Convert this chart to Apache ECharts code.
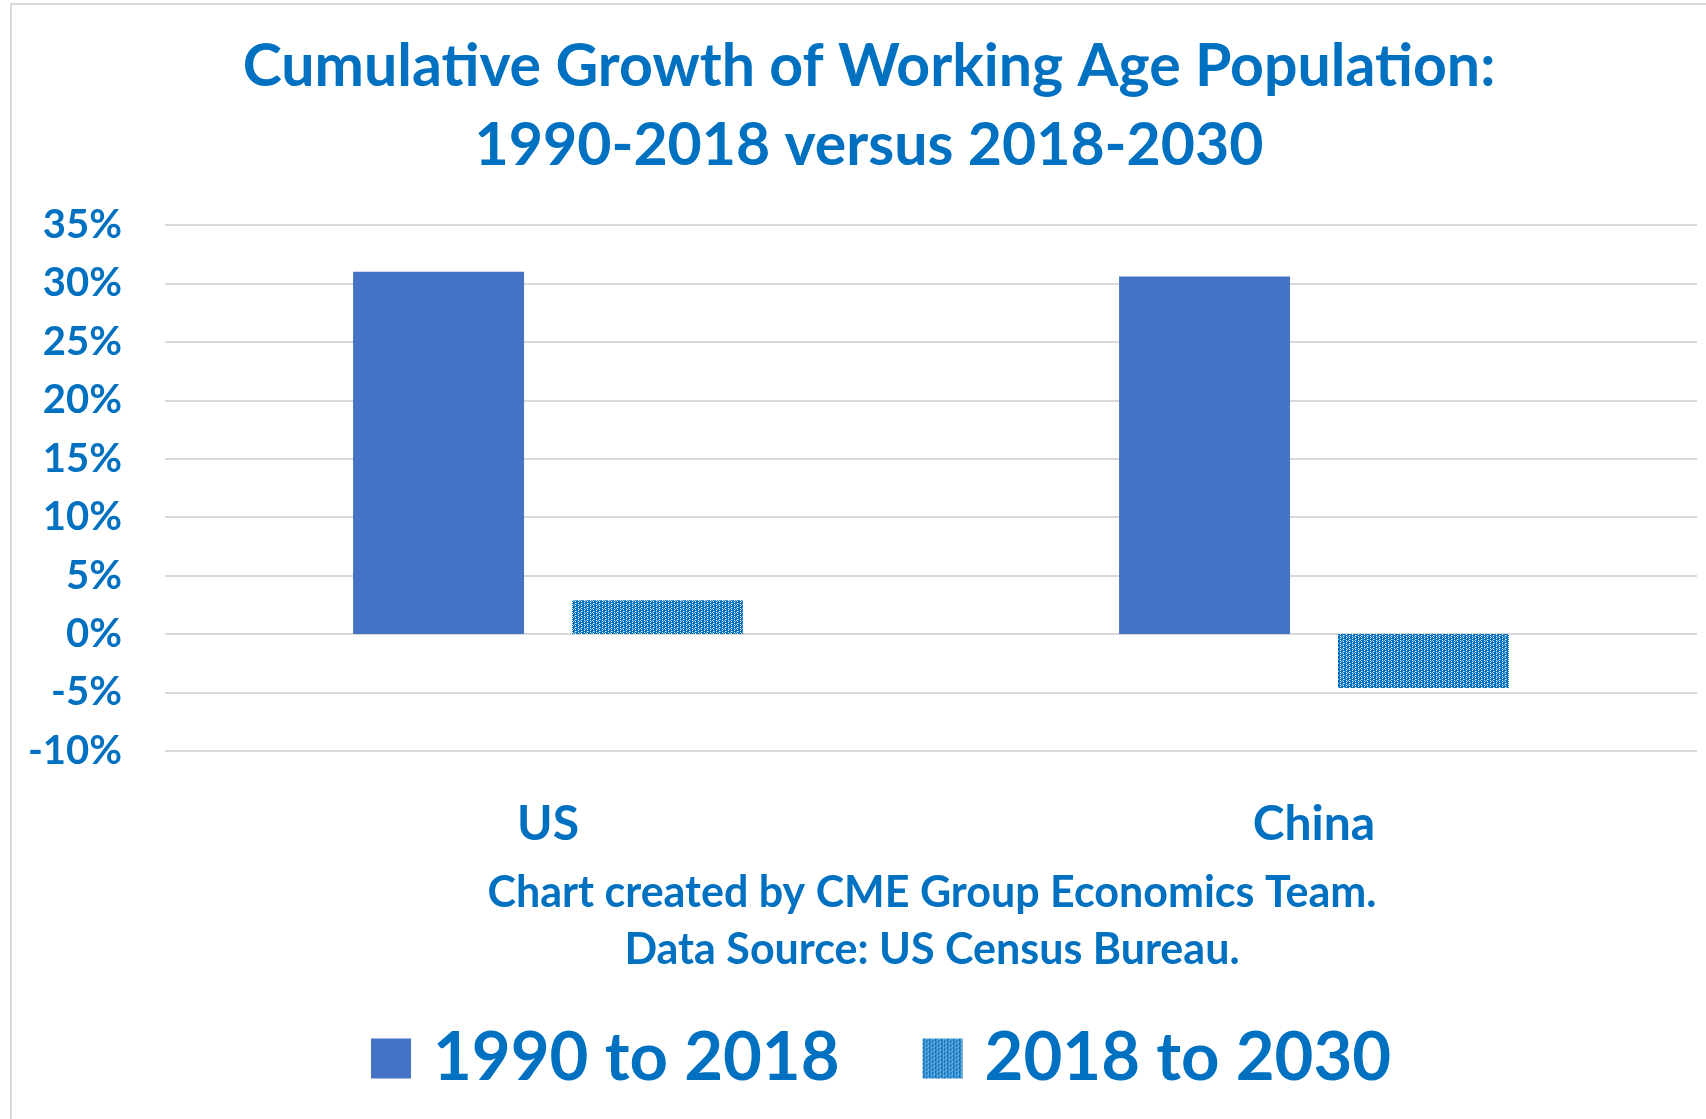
<!DOCTYPE html>
<html>
<head>
<meta charset="utf-8">
<title>Cumulative Growth of Working Age Population</title>
<script src="https://cdn.jsdelivr.net/npm/echarts@6/dist/echarts.min.js"></script>
<style>
  html, body { margin: 0; padding: 0; background: #ffffff; }
  #chart { width: 1706px; height: 1119px; }
</style>
</head>
<body>
<div id="chart"></div>
<script>
// Countries compared
const categories = ['US', 'China'];
// Cumulative growth of the working-age population, percent
const growth1990to2018 = [31.0, 30.6];
const growth2018to2030 = [2.9, -4.6];
// Series names as shown in the legend
const seriesNames = ['1990 to 2018', '2018 to 2030'];
// Value axis range and step (percent)
const yMin = -10, yMax = 35, yStep = 5;

const BLUE_TEXT = '#0070C0';
const FONT = 'Lato, "Open Sans", sans-serif';

// Dotted-grid fill used for the projected series
function makeDotPattern() {
  const c = document.createElement('canvas');
  c.width = 6; c.height = 4;
  const g = c.getContext('2d');
  g.fillStyle = '#0070C0';
  g.fillRect(0, 0, 6, 4);
  g.fillStyle = '#ffffff';
  g.fillRect(2, 0, 1, 1);
  g.fillRect(2, 2, 1, 1);
  g.fillRect(5, 1, 1, 1);
  g.fillRect(5, 3, 1, 1);
  g.fillStyle = 'rgba(255,255,255,0.55)';
  g.fillRect(3, 1, 1, 1);
  g.fillRect(0, 3, 1, 1);
  g.fillRect(4, 0, 1, 1);
  return c;
}

const chart = echarts.init(document.getElementById('chart'), null, { renderer: 'canvas' });

chart.setOption({
  backgroundColor: '#ffffff',
  animation: false,
  title: {
    text: 'Cumulative Growth of Working Age Population:\n1990-2018 versus 2018-2030',
    left: 869,
    top: 27,
    textAlign: 'center',
    padding: 0,
    textStyle: {
      color: BLUE_TEXT,
      fontFamily: FONT,
      fontWeight: 'bold',
      fontSize: 59,
      lineHeight: 79
    }
  },
  legend: {
    data: seriesNames,
    left: 366,
    top: 1020,
    icon: 'rect',
    itemWidth: 40,
    itemHeight: 40,
    itemGap: 83,
    selectedMode: false,
    textStyle: {
      color: BLUE_TEXT,
      fontFamily: FONT,
      fontWeight: 'bold',
      fontSize: 67,
      padding: [0, 0, 0, 17]
    }
  },
  grid: {
    left: 165,
    right: 9,
    top: 225,
    height: 526,
    containLabel: false
  },
  xAxis: {
    type: 'category',
    data: categories,
    axisLine: { show: false },
    axisTick: { show: false },
    axisLabel: {
      color: BLUE_TEXT,
      fontFamily: FONT,
      fontWeight: 'bold',
      fontSize: 48,
      margin: 50
    }
  },
  yAxis: {
    type: 'value',
    min: yMin,
    max: yMax,
    interval: yStep,
    axisLine: { show: false },
    axisTick: { show: false },
    splitLine: { lineStyle: { color: '#D9D9D9', width: 2 } },
    axisLabel: {
      formatter: '{value}%',
      color: BLUE_TEXT,
      fontFamily: FONT,
      fontWeight: 'bold',
      fontSize: 40,
      margin: 43
    }
  },
  graphic: [
    {
      type: 'rect',
      shape: { x: 11, y: 4, width: 1720, height: 1140 },
      style: { fill: 'none', stroke: '#D9D9D9', lineWidth: 2 },
      silent: true
    },
    {
      type: 'text',
      style: {
        x: 932, y: 893,
        text: 'Chart created by CME Group Economics Team.',
        fill: BLUE_TEXT,
        font: 'bold 43px ' + FONT,
        textAlign: 'center',
        textVerticalAlign: 'middle'
      }
    },
    {
      type: 'text',
      style: {
        x: 932, y: 950,
        text: 'Data Source: US Census Bureau.',
        fill: BLUE_TEXT,
        font: 'bold 43px ' + FONT,
        textAlign: 'center',
        textVerticalAlign: 'middle'
      }
    }
  ],
  series: [
    {
      name: seriesNames[0],
      type: 'bar',
      data: growth1990to2018,
      barWidth: 171,
      barGap: '28%',
      itemStyle: { color: '#4472C4' }
    },
    {
      name: seriesNames[1],
      type: 'bar',
      data: growth2018to2030,
      barWidth: 171,
      itemStyle: { color: { image: makeDotPattern(), repeat: 'repeat' } }
    }
  ]
});
</script>
</body>
</html>
